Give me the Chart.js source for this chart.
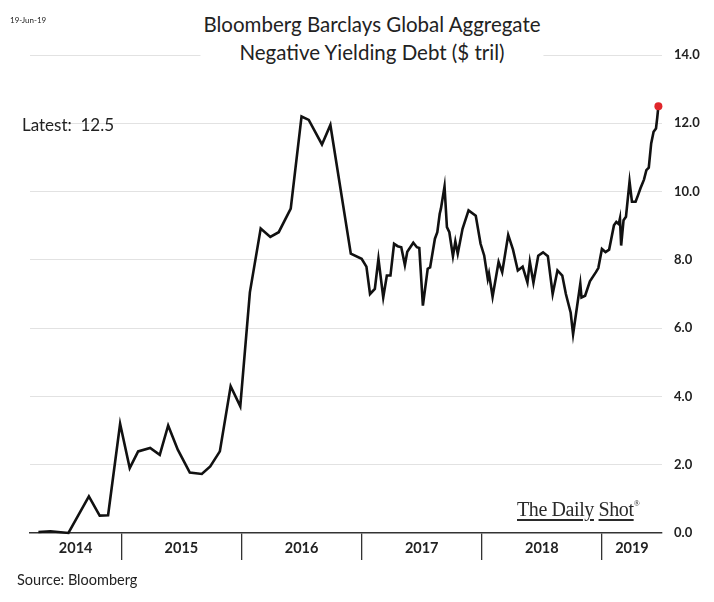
<!DOCTYPE html>
<html>
<head>
<meta charset="utf-8">
<script src="https://cdn.jsdelivr.net/npm/chart.js@4.4.1/dist/chart.umd.min.js"></script>
<style>
  body { margin: 0; background: #fff; }
  .wrap { position: relative; width: 714px; height: 602px; font-family: Lato, "Open Sans", sans-serif; color: #222; }
  canvas { position: absolute; left: 0; top: 0; }
  .date { position: absolute; left: 10px; top: 15px; font-size: 8px; }
  .title { position: absolute; left: 372px; top: 10px; transform: translateX(-50%); background: #fff;
           text-align: center; font-size: 20.5px; line-height: 28px; white-space: nowrap; padding: 0 3px; }
  .latest { position: absolute; left: 22px; top: 114px; font-size: 17px; white-space: pre; }
  .brand { position: absolute; left: 517px; top: 498px; font-family: "Liberation Serif", serif; font-size: 20px;
           letter-spacing: -0.4px; color: #2a2a2a; }
  .brand u { text-decoration-thickness: 1.5px; text-underline-offset: 3px; }
  .brand sup { font-size: 8px; vertical-align: 10px; }
  .source { position: absolute; left: 17px; top: 571px; font-size: 14.5px; }
</style>
</head>
<body>
<div class="wrap">
  <canvas id="chart" width="714" height="602"></canvas>
  <div class="date">19-Jun-19</div>
  <div class="title">Bloomberg Barclays Global Aggregate<br>Negative Yielding Debt ($ tril)</div>
  <div class="latest">Latest:  12.5</div>
  <div class="brand"><u>The Daily</u> <u>Shot</u><sup>&reg;</sup></div>
  <div class="source">Source: Bloomberg</div>
</div>
<script>
// dates as decimal years, values in $ trillion
const dates = [2014.31, 2014.41, 2014.56, 2014.73, 2014.82, 2014.89, 2014.99,
  2015.07, 2015.14, 2015.24, 2015.32, 2015.39, 2015.47, 2015.57, 2015.67, 2015.74, 2015.82, 2015.91, 2015.99,
  2016.07, 2016.16, 2016.24, 2016.31, 2016.41, 2016.50, 2016.56, 2016.67, 2016.74, 2016.91,
  2017.00, 2017.04, 2017.07, 2017.11, 2017.14, 2017.18, 2017.21, 2017.24, 2017.27, 2017.30, 2017.33, 2017.36,
  2017.38, 2017.43, 2017.46, 2017.48, 2017.51, 2017.55, 2017.57, 2017.61, 2017.63, 2017.65, 2017.66, 2017.69,
  2017.71, 2017.73, 2017.76, 2017.78, 2017.80, 2017.84, 2017.89, 2017.95, 2017.99,
  2018.02, 2018.05, 2018.06, 2018.09, 2018.14, 2018.17, 2018.22, 2018.26, 2018.30, 2018.34, 2018.38, 2018.40,
  2018.43, 2018.47, 2018.51, 2018.55, 2018.59, 2018.63, 2018.67, 2018.70, 2018.74, 2018.76, 2018.82, 2018.83,
  2018.86, 2018.90, 2018.95, 2018.97,
  2019.00, 2019.03, 2019.06, 2019.10, 2019.12, 2019.14, 2019.15, 2019.16, 2019.18, 2019.20, 2019.23, 2019.25,
  2019.28, 2019.30, 2019.32, 2019.35, 2019.37, 2019.39, 2019.41, 2019.43, 2019.45, 2019.46, 2019.47];

const debt = [0.03, 0.05, 0.0, 1.07, 0.51, 0.52, 3.2,
  1.9, 2.39, 2.49, 2.29, 3.15, 2.44, 1.77, 1.73, 1.95, 2.39, 4.30, 3.71,
  7.05, 8.92, 8.67, 8.81, 9.5, 12.2, 12.1, 11.38, 11.95, 8.18,
  8.03, 7.8, 7.0, 7.15, 8.03, 6.9, 7.54, 7.54, 8.47, 8.4, 8.37, 7.85,
  8.24, 8.5, 8.37, 8.35, 6.66, 7.74, 7.78, 8.62, 8.81, 9.35, 9.5, 10.15,
  8.96, 8.81, 8.11, 8.54, 8.18, 8.91, 9.45, 9.29, 8.47,
  8.13, 7.44, 7.6, 6.92, 7.94, 7.64, 8.73, 8.3, 7.69, 7.8, 7.34, 7.94,
  7.33, 8.12, 8.22, 8.11, 7.0, 7.69, 7.54, 7.0, 6.45, 5.82, 7.3, 6.9,
  6.95, 7.37, 7.64, 7.76,
  8.32, 8.23, 8.3, 9.01, 9.11, 9.05, 9.21, 8.42, 9.16, 9.26, 10.29, 9.7,
  9.7, 9.89, 10.09, 10.35, 10.63, 10.7, 11.41, 11.75, 11.85, 12.15, 12.5];

const yearNames = ['2014', '2015', '2016', '2017', '2018', '2019'];
const yearBreaks = [2015, 2016, 2017, 2018, 2019];

const xMin = 2014.24;
const xMax = 2019.5;

// year label sits in the middle of the visible part of its year
const labelPos = yearNames.map(y => {
  const start = Math.max(+y, xMin);
  const end = Math.min(+y + 1, xMax);
  return (start + end) / 2;
});
const tickVals = [...labelPos, ...yearBreaks].sort((a, b) => a - b);

new Chart(document.getElementById('chart'), {
  type: 'line',
  data: {
    datasets: [{
      data: dates.map((d, i) => ({ x: d, y: debt[i] })),
      borderColor: '#111',
      borderWidth: 2.6,
      tension: 0,
      pointRadius: ctx => ctx.dataIndex === debt.length - 1 ? 4 : 0,
      pointBackgroundColor: '#e0262b',
      pointBorderWidth: 0,
      clip: false
    }]
  },
  options: {
    responsive: false,
    animation: false,
    layout: { padding: { left: 30, top: 55, right: 0, bottom: 0 } },
    plugins: {
      legend: { display: false },
      tooltip: { enabled: false }
    },
    scales: {
      x: {
        type: 'linear',
        min: xMin,
        max: xMax,
        afterBuildTicks: s => { s.ticks = tickVals.map(v => ({ value: v })); },
        afterFit: s => { s.height = 69; },
        ticks: {
          autoSkip: false,
          maxRotation: 0,
          padding: -20,
          color: '#222',
          font: { family: 'Lato', size: 14.5, weight: 'bold' },
          callback: v => {
            const i = labelPos.indexOf(v);
            return i >= 0 ? yearNames[i] : '';
          }
        },
        grid: {
          drawOnChartArea: false,
          tickLength: 27,
          lineWidth: 1.3,
          color: ctx => ctx.tick && yearBreaks.includes(ctx.tick.value) ? '#333' : 'rgba(0,0,0,0)'
        },
        border: { display: true, color: '#333', width: 1.5 }
      },
      y: {
        position: 'right',
        min: 0,
        max: 14,
        afterFit: s => { s.width = 52; },
        ticks: {
          stepSize: 2,
          padding: 12,
          color: '#222',
          font: { family: 'Lato', size: 13, weight: 'bold' },
          callback: v => v.toFixed(1)
        },
        grid: {
          drawTicks: false,
          color: ctx => ctx.tick && ctx.tick.value === 0 ? 'rgba(0,0,0,0)' : '#e2e2e2'
        },
        border: { display: false }
      }
    }
  }
});
</script>
</body>
</html>
